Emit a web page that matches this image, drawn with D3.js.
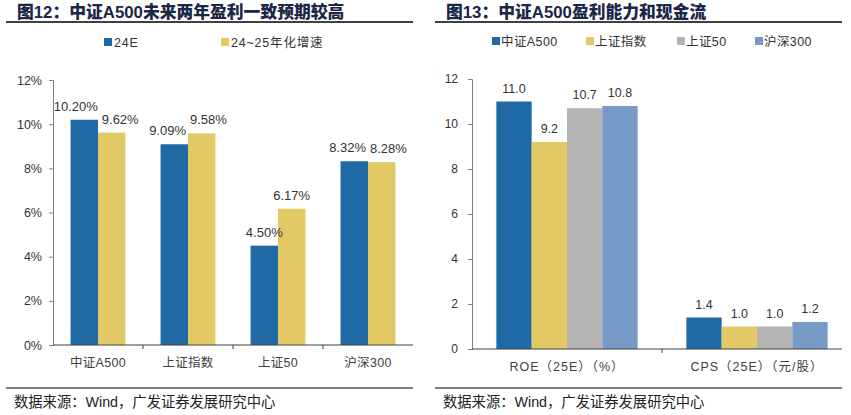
<!DOCTYPE html>
<html><head><meta charset="utf-8">
<script src="https://cdn.jsdelivr.net/npm/d3@7"></script>
<style>
html,body{margin:0;padding:0;background:#fff;}
svg{display:block;}
text{font-family:"Liberation Sans","Noto Sans CJK SC",sans-serif;}
</style></head>
<body><svg id="c" width="851" height="415"></svg>
<script>
// ---- Data: left chart (图12)
const cats1 = ["中证A500","上证指数","上证50","沪深300"];
const series1 = ["24E","24~25年化增速"];
const e24 = [10.20, 9.09, 4.50, 8.32];
const growth = [9.62, 9.58, 6.17, 8.28];
const ticks1 = [0,2,4,6,8,10,12];
const title1 = "图12：中证A500未来两年盈利一致预期较高";

// ---- Data: right chart (图13)
const cats2 = ["ROE（25E）（%）","CPS（25E）（元/股）"];
const series2 = ["中证A500","上证指数","上证50","沪深300"];
const a500 = [11.0, 1.4];
const shIndex = [9.2, 1.0];
const sz50 = [10.7, 1.0];
const hs300 = [10.8, 1.2];
const ticks2 = [0,2,4,6,8,10,12];
const title2 = "图13：中证A500盈利能力和现金流";

const source = "数据来源：Wind，广发证券发展研究中心";

const BLUE="#1f6aa5", YELLOW="#e3c866", GREY="#b4b4b4", LBLUE="#789ac7";
const svg = d3.select("#c");

function frame(x0, x1, title){
  svg.append("text").attr("x", x0+11).attr("y", 18)
    .attr("font-family","'Noto Sans CJK SC'").attr("font-weight",900)
    .attr("font-size",16.8).attr("fill","#1b2747").text(title);
  svg.append("line").attr("x1",x0).attr("x2",x1).attr("y1",22).attr("y2",22)
    .attr("stroke","#000").attr("stroke-width",1.5);
  svg.append("line").attr("x1",x0).attr("x2",x1).attr("y1",388).attr("y2",388)
    .attr("stroke","#000").attr("stroke-width",1.2);
  svg.append("text").attr("x", x0+8).attr("y", 407)
    .attr("font-size",14.3).attr("fill","#222").text(source);
}

function chart(opt){
  const {cats, series, values, colors, ticks, fmt, yRange, xRange, xEnd, outerPad,
         tickFont, valFont, catFont, catOffset, labelGap, tickPad, fmtTick, catSpacing} = opt;
  const g = svg.append("g");
  const y = d3.scaleLinear().domain([0,12]).range(yRange);
  const x0 = d3.scaleBand().domain(cats).range(xRange).padding(0);
  const x1 = d3.scaleBand().domain(series).range([0,x0.bandwidth()]).paddingInner(0).paddingOuter(outerPad);

  // y axis
  const ya = g.append("g").attr("transform",`translate(${xRange[0]},0)`)
    .call(d3.axisLeft(y).tickValues(ticks).tickFormat(fmtTick).tickSize(4).tickPadding(tickPad));
  ya.select(".domain").attr("stroke","#7f7f7f");
  ya.selectAll(".tick line").attr("stroke","#7f7f7f");
  ya.selectAll(".tick text").attr("font-size",tickFont).attr("fill","#333")
    .attr("font-family","'Liberation Sans'");

  // bars
  series.forEach((s,si)=>{
    g.selectAll(null).data(cats).enter().append("rect")
      .attr("x", c=>x0(c)+x1(s)).attr("width", x1.bandwidth())
      .attr("y", (c,ci)=>y(values[si][ci])).attr("height",(c,ci)=>y(0)-y(values[si][ci]))
      .attr("fill", colors[si]);
  });

  // x axis
  g.append("line").attr("x1",xRange[0]).attr("x2",xEnd).attr("y1",y(0)).attr("y2",y(0))
    .attr("stroke","#404040").attr("stroke-width",1);
  g.selectAll(null).data(cats.slice(1)).enter().append("line")
    .attr("x1",c=>x0(c)).attr("x2",c=>x0(c)).attr("y1",y(0)).attr("y2",y(0)+4)
    .attr("stroke","#404040");
  g.selectAll(null).data(cats).enter().append("text")
    .attr("x",c=>x0(c)+x0.bandwidth()/2).attr("y",y(0)+catOffset)
    .attr("text-anchor","middle").attr("font-size",catFont).attr("letter-spacing",catSpacing)
    .attr("fill","#404040").text(c=>c);

  // value labels
  cats.forEach((c,ci)=>{
    const grp = [];
    series.forEach((s,si)=>{
      const v = values[si][ci];
      const t = g.append("text").attr("text-anchor","middle").attr("font-size",valFont)
        .attr("fill","#333").text(fmt(v));
      const cx = x0(c)+x1(s)+x1.bandwidth()/2, by = y(v)-labelGap;
      grp.push({t, cx, by, w: t.node().getComputedTextLength()});
    });
    // simple collision avoidance between neighbours in a group
    for(let i=0;i<grp.length-1;i++){
      const a=grp[i], b=grp[i+1];
      if(Math.abs(a.by-b.by) < valFont+1){
        const ov = (a.cx+a.w/2) - (b.cx-b.w/2) + 4;
        if(ov>0){ a.cx -= ov/2; b.cx += ov/2; }
      }
    }
    grp.forEach(l=>l.t.attr("x",l.cx).attr("y",l.by));
  });
  return {y,x0,x1};
}

// ---- left
frame(6, 413, title1);
chart({cats:cats1, series:series1, values:[e24,growth], colors:[BLUE,YELLOW], ticks:ticks1,
  fmt:d=>d.toFixed(2)+"%", fmtTick:d=>d+"%", yRange:[345,80], xRange:[53,413], xEnd:413,
  outerPad:0.64, tickFont:12.5, valFont:13, catFont:12.5, catOffset:22, labelGap:9, tickPad:7, catSpacing:0.3});
// legend left
[[series1[0],BLUE,104],[series1[1],YELLOW,221]].forEach(([t,c,x])=>{
  svg.append("rect").attr("x",x).attr("y",38).attr("width",8).attr("height",8).attr("fill",c);
  svg.append("text").attr("x",x+10).attr("y",46.5).attr("font-size",12.5).attr("letter-spacing",0.8)
    .attr("fill","#333").text(t);
});

// ---- right
frame(435, 842, title2);
chart({cats:cats2, series:series2, values:[a500,shIndex,sz50,hs300], colors:[BLUE,YELLOW,GREY,LBLUE],
  ticks:ticks2, fmt:d=>d.toFixed(1), fmtTick:d=>d, yRange:[349,79], xRange:[472,852], xEnd:842,
  outerPad:0.69, tickFont:12, valFont:12.5, catFont:12.5, catOffset:22, labelGap:9, tickPad:10, catSpacing:1});
// legend right
series2.forEach((s,i)=>{
  const xs=[492,586,677,755][i];
  const c=[BLUE,YELLOW,GREY,LBLUE][i];
  svg.append("rect").attr("x",xs).attr("y",37).attr("width",8).attr("height",8).attr("fill",c);
  svg.append("text").attr("x",xs+9).attr("y",46).attr("font-size",12.5).attr("letter-spacing",0.4)
    .attr("fill","#333").text(s);
});
</script></body></html>
